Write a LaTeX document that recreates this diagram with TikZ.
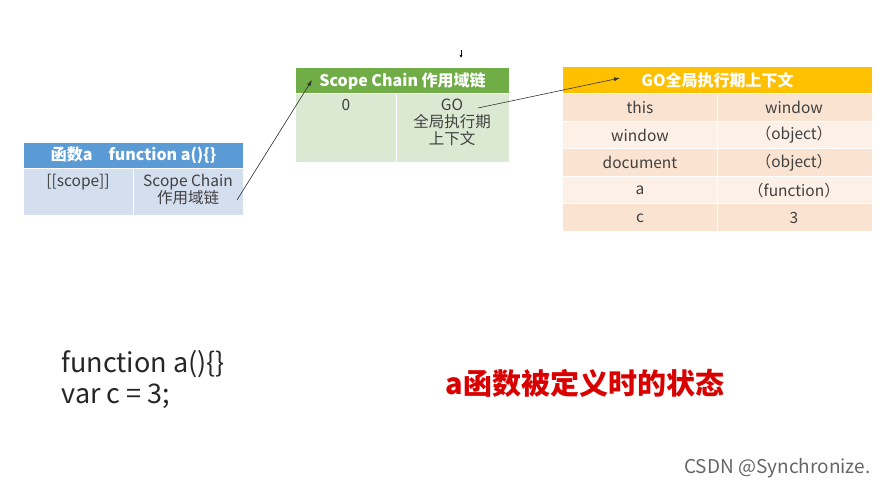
\documentclass[tikz,border=0pt]{standalone}
\usepackage{fontspec}
\setmainfont{Noto Sans CJK SC}
\usetikzlibrary{arrows.meta}
\definecolor{bhead}{HTML}{5B9BD5}\definecolor{bbody}{HTML}{D3DEEF}
\definecolor{ghead}{HTML}{70AD47}\definecolor{gbody}{HTML}{DBE9D2}
\definecolor{ohead}{HTML}{FFC000}\definecolor{oa}{HTML}{FBE3D2}\definecolor{ob}{HTML}{FDF0E7}
\definecolor{ink}{HTML}{404040}
\tikzset{x=1pt,y=-1pt,
 cell/.style={font=\fontsize{15.5}{17}\selectfont,text=ink,align=center,inner sep=0pt},
 head/.style={font=\bfseries\fontsize{16}{18}\selectfont,text=white},
 link/.style={-{Latex[length=6pt,width=4pt]},black!80,semithick}}
\begin{document}
\begin{tikzpicture}
\useasboundingbox (0,0) rectangle (886,489);
% blue table
\fill[bhead] (24,143) rectangle (243,168);
\fill[bbody] (24,169) rectangle (243,215);
\draw[white,thick] (133,169) -- (133,215);
\node[head] (bh) at (133.5,155.5) {函数a\quad function a()\{\}};
\node[cell,anchor=north] (bs) at (78,174) {[[scope]]};
\node[cell,anchor=north] (bc) at (188,174) {Scope Chain\\作用域链};
% green table
\fill[ghead] (296,68) rectangle (509,93);
\fill[gbody] (296,94) rectangle (509,162);
\draw[white,thick] (396,94) -- (396,162);
\node[head] (gh) at (402.5,81) {Scope Chain 作用域链};
\node[cell,anchor=north] (g0) at (346,99) {0};
\node[cell,anchor=north] (go) at (452,99) {GO\\全局执行期\\上下文};
% orange table
\fill[ohead] (563,67) rectangle (872,93);
\node[head] (oh) at (717.5,80) {GO全局执行期上下文};
\foreach \i/\k/\v/\c in {0/this/window/oa,1/window/（object）/ob,2/document/（object）/oa,3/a/（function）/ob,4/c/3/oa}{
 \fill[\c] (563,{94+27.6*\i}) rectangle (872,{93+27.6*(\i+1)});
 \draw[white,thick] (717,{94+27.6*\i}) -- (717,{93+27.6*(\i+1)});
 \node[cell] (k\i) at (640,{107.5+27.6*\i}) {\k};
 \node[cell] (v\i) at (794,{107.5+27.6*\i}) {\v};
}
\coordinate (p1) at (237,200);\coordinate (p2) at (312,80);
\coordinate (p3) at (478,108);\coordinate (p4) at (620,78);
\draw[link] (p1) -- (p2);
\draw[link] (p3) -- (p4);
\coordinate (t1) at (461,50);\coordinate (t2) at (461,58);
\draw[-{Latex[length=3pt,width=3pt]},thick] (t1) -- (t2);
\node[anchor=west,font=\fontsize{27}{31}\selectfont,text=black!85,align=left] (code) at (58,380) {function a()\{\}\\var c = 3;};
\node[font=\bfseries\fontsize{29}{32}\selectfont,text=red!85!black] (title) at (585,383) {a函数被定义时的状态};
\node[anchor=east,font=\fontsize{19}{22}\selectfont,text=black!60] (wm) at (874,468) {CSDN @Synchronize.};
\end{tikzpicture}
\end{document}
